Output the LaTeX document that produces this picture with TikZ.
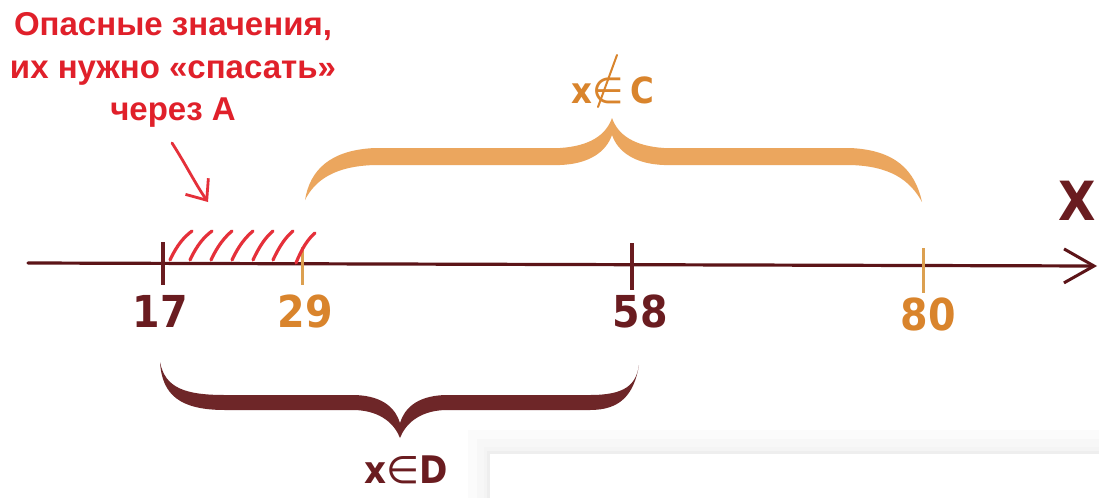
\documentclass[tikz,border=0pt]{standalone}
\usepackage{fontspec}
\usetikzlibrary{arrows.meta}
\newfontfamily\redfont{Liberation Sans}
\newfontfamily\numfont{DejaVu Sans}[FakeStretch=0.9]
\newfontfamily\symfont{DejaVu Sans}
\definecolor{axiscol}{HTML}{5C1418}
\definecolor{maroontxt}{HTML}{6A1C20}
\definecolor{orng}{HTML}{D9842C}
\definecolor{orngtick}{HTML}{DCA050}
\definecolor{orngbrace}{HTML}{EBA65E}
\definecolor{maroonbrace}{HTML}{6E2628}
\definecolor{redtxt}{HTML}{E0202A}
\definecolor{hatchcol}{HTML}{E5303A}
\tikzset{
  numlabel/.style={inner sep=0pt, anchor=base, font=\numfont\bfseries\fontsize{44}{48}\selectfont},
  ticklineM/.style={draw=maroontxt, line width=3.5pt},
  ticklineO/.style={draw=orngtick, line width=3pt},
  hatchline/.style={draw=hatchcol, line width=3.2pt, line cap=round},
}
\begin{document}
\begin{tikzpicture}[x=1pt,y=-1pt]
\useasboundingbox (0,0) rectangle (1099,498);
\fill[white] (0,0) rectangle (1099,498);
% panel with soft shadow (bottom right)
\fill[gray!3] (468,430) rectangle (1099,498);
\fill[gray!6] (477,439) rectangle (1099,498);
\fill[gray!9] (484,447) rectangle (1099,498);
\fill[gray!13] (487,451) rectangle (1099,498);
\fill[white] (490,454) rectangle (1099,498);
% axis
\coordinate (axL) at (28,263);
\coordinate (axR) at (1097,266);
\draw[axiscol, line width=3.2pt, line cap=round, line join=round,
  -{Straight Barb[length=30pt,width=34pt,line width=3pt]}] (axL) -- (axR);
% ticks
\draw[ticklineM] (163,242) -- (163,285);
\draw[ticklineO] (302,247) -- (302,285);
\draw[ticklineM] (632,243) -- (632,290);
\draw[ticklineO] (923,248) -- (923,293);
% hatching
\draw[hatchline] (170,260) .. controls (177,245) and (184,237) .. (192,231);
\draw[hatchline] (190,260) .. controls (197,245) and (204,237) .. (212,231);
\draw[hatchline] (211,260) .. controls (218,245) and (225,237) .. (232,231);
\draw[hatchline] (232,260) .. controls (239,245) and (246,237) .. (253,231);
\draw[hatchline] (253,260) .. controls (260,245) and (266,237) .. (273,231);
\draw[hatchline] (273,260) .. controls (280,245) and (286,237) .. (293,231);
\draw[hatchline] (296,263) .. controls (302,248) and (308,239) .. (315,233);
% labels
\node[numlabel, text=maroontxt] (n17) at (160,327) {17};
\node[numlabel, text=orng] (n29) at (305,327) {29};
\node[numlabel, text=maroontxt] (n58) at (640,327) {58};
\node[numlabel, text=orng] (n80) at (928,330) {80};
\node[inner sep=0pt, anchor=base, text=maroontxt, font=\numfont\bfseries\fontsize{54}{60}\selectfont] (X) at (1077,220) {X};
% orange brace (C)
\fill[orngbrace] (305,200) .. controls (310,170) and (330,150) .. (375,148) -- (560,148)
  .. controls (590,146) and (606,135) .. (612,118)
  .. controls (618,135) and (634,146) .. (664,148) -- (850,148)
  .. controls (895,150) and (915,170) .. (922,202)
  .. controls (910,180) and (890,166) .. (850,165) -- (664,165)
  .. controls (635,164) and (618,152) .. (612,135)
  .. controls (606,152) and (589,164) .. (560,165) -- (375,165)
  .. controls (335,166) and (315,180) .. cycle;
% maroon brace (D)
\fill[maroonbrace] (160,362) .. controls (165,388) and (185,395) .. (225,395) -- (355,395)
  .. controls (385,396) and (396,410) .. (400,423)
  .. controls (404,410) and (415,396) .. (445,395) -- (590,395)
  .. controls (625,395) and (636,385) .. (639,365)
  .. controls (634,395) and (620,410) .. (590,410) -- (445,410)
  .. controls (418,411) and (405,425) .. (400,438)
  .. controls (395,425) and (382,411) .. (355,410) -- (225,410)
  .. controls (180,410) and (162,395) .. cycle;
% set labels
\node[inner sep=0pt, anchor=base, text=orng, font=\numfont\bfseries\fontsize{36}{40}\selectfont] (xC) at (613,103) {x{\symfont\mdseries ∈}\,C};
\draw[orng, line width=2pt, line cap=round] (617,55) -- (598,107);
\node[inner sep=0pt, anchor=base, text=maroontxt, font=\numfont\bfseries\fontsize{38}{42}\selectfont] (xD) at (406,483) {x{\symfont\mdseries ∈}D};
% red note
\node[inner sep=0pt, anchor=north, align=center, text=redtxt, font=\redfont\bfseries\fontsize{33}{42.5}\selectfont] (note) at (173,12.5)
  {Опасные значения,\\их нужно «спасать»\\через А};
\coordinate (arrS) at (172,143);
\coordinate (arrE) at (208,202);
\draw[hatchcol, line width=2.8pt, line cap=round, line join=round,
  -{Straight Barb[length=17pt,width=28pt,line width=2.8pt]}] (arrS) .. controls (185,163) and (196,185) .. (arrE);
\end{tikzpicture}
\end{document}
